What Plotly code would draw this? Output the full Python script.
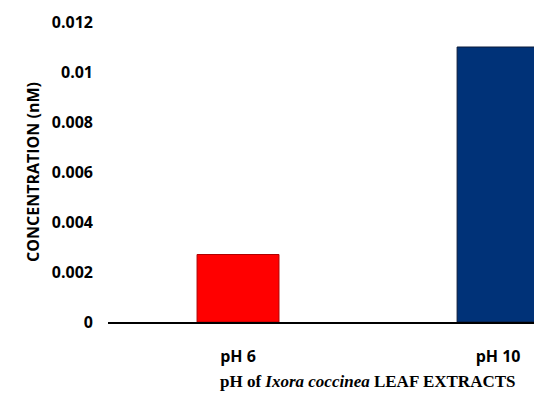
import plotly.graph_objects as go

categories = ["pH 6", "pH 10"]
values = [0.0027, 0.011]
colors = ["#FF0000", "#003278"]
edge_colors = ["#B00000", "#0A1A3A"]
y_ticks = [0, 0.002, 0.004, 0.006, 0.008, 0.01, 0.012]
y_tick_text = ["0", "0.002", "0.004", "0.006", "0.008", "0.01", "0.012"]

fig = go.Figure(go.Bar(
    x=categories, y=values, width=0.315,
    marker=dict(color=colors, line=dict(color=edge_colors, width=1)),
))

fig.update_layout(
    width=534, height=385,
    margin=dict(l=100, r=0, t=14, b=71),
    plot_bgcolor="white", paper_bgcolor="white",
    showlegend=False,
    font=dict(family="Open Sans", color="black"),
    xaxis=dict(
        range=[-0.5, 1.169], showline=True, linecolor="black", linewidth=2,
        showgrid=False, ticks="", ticklabelstandoff=19,
        tickfont=dict(size=16, family="Open Sans", weight="bold"),
    ),
    yaxis=dict(
        range=[0, 0.012], tickvals=y_ticks, ticktext=y_tick_text,
        showgrid=False, showline=False, zeroline=False, ticks="",
        ticklabelstandoff=14,
        tickfont=dict(size=16, family="Open Sans", weight="bold"),
        title=dict(text="<b>CONCENTRATION (nM)</b>", font=dict(size=16, family="Open Sans"), standoff=8),
    ),
    annotations=[dict(
        text="<b>pH of <i>Ixora coccinea</i> LEAF EXTRACTS</b>",
        xref="paper", yref="paper", x=0.597, y=0, xanchor="center", yanchor="middle",
        yshift=-59, showarrow=False,
        font=dict(family="Liberation Serif", size=17, color="black"),
    )],
)

fig.write_html("out.html")
